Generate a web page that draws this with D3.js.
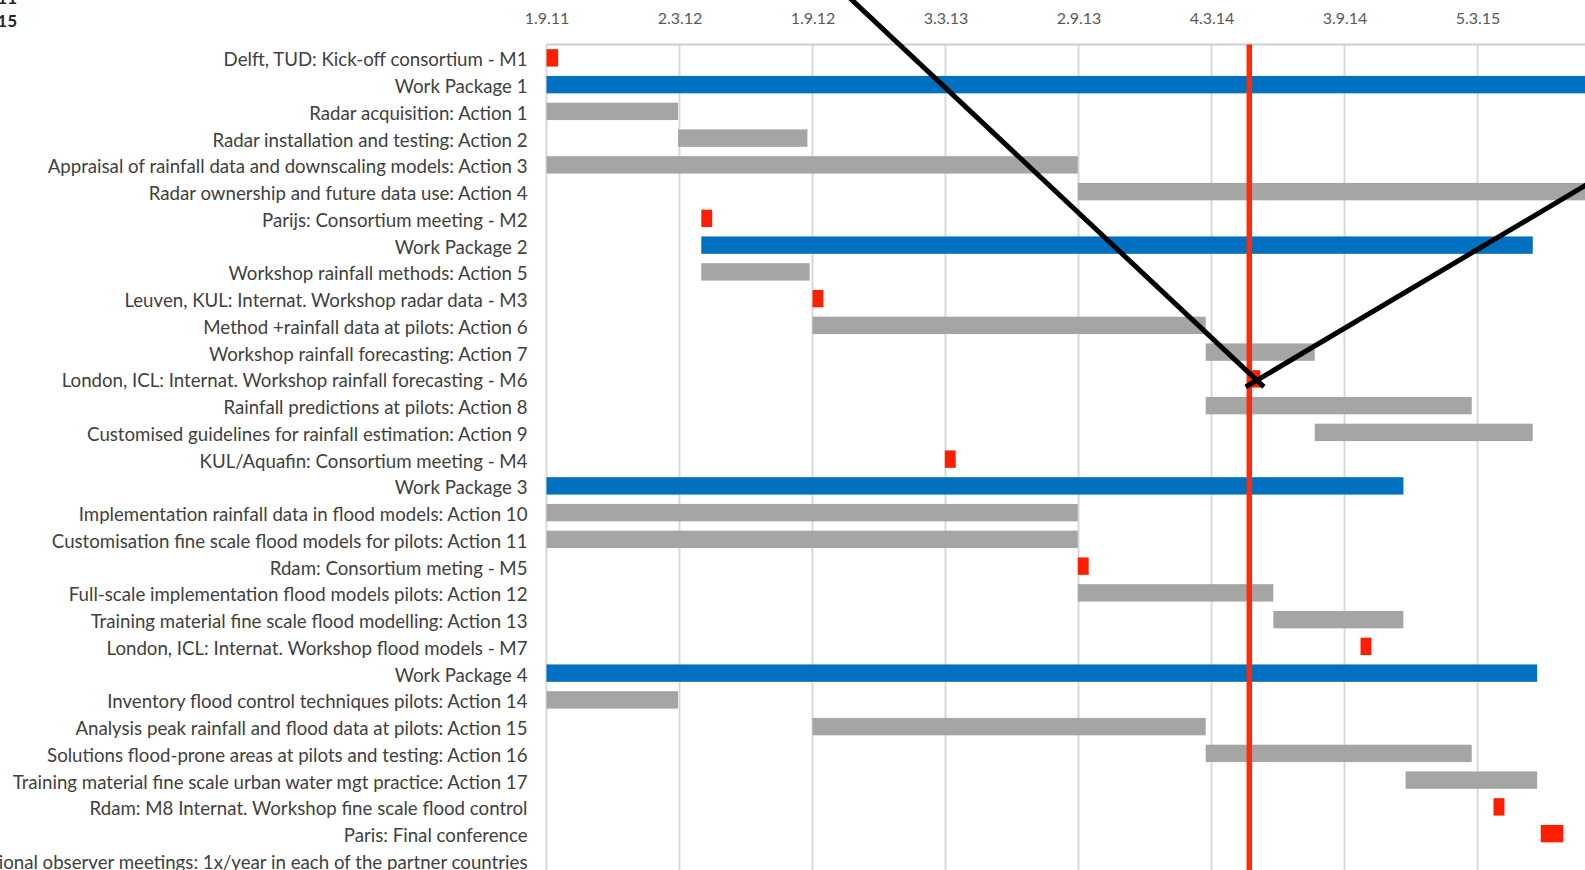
<!DOCTYPE html>
<html><head><meta charset="utf-8">
<script src="https://cdn.jsdelivr.net/npm/d3@7"></script>
<style>html,body{margin:0;padding:0;background:#fff;overflow:hidden}</style>
</head><body><svg id="c" width="1585" height="870"></svg>
<script>
const tasks = [
  "Delft, TUD: Kick-off consortium - M1",
  "Work Package 1",
  "Radar acquisition: Action 1",
  "Radar installation and testing: Action 2",
  "Appraisal of rainfall data and downscaling models: Action 3",
  "Radar ownership and future data use: Action 4",
  "Parijs: Consortium meeting - M2",
  "Work Package 2",
  "Workshop rainfall methods: Action 5",
  "Leuven, KUL: Internat. Workshop radar data - M3",
  "Method +rainfall data at pilots: Action 6",
  "Workshop rainfall forecasting: Action 7",
  "London, ICL: Internat. Workshop rainfall forecasting - M6",
  "Rainfall predictions at pilots: Action 8",
  "Customised guidelines for rainfall estimation: Action 9",
  "KUL/Aquafin: Consortium meeting - M4",
  "Work Package 3",
  "Implementation rainfall data in flood models: Action 10",
  "Customisation fine scale flood models for pilots: Action 11",
  "Rdam: Consortium meting - M5",
  "Full-scale implementation flood models pilots: Action 12",
  "Training material fine scale flood modelling: Action 13",
  "London, ICL: Internat. Workshop flood models - M7",
  "Work Package 4",
  "Inventory flood control techniques pilots: Action 14",
  "Analysis peak rainfall and flood data at pilots: Action 15",
  "Solutions flood-prone areas at pilots and testing: Action 16",
  "Training material fine scale urban water mgt practice: Action 17",
  "Rdam: M8 Internat. Workshop fine scale flood control",
  "Paris: Final conference",
  "National observer meetings: 1x/year in each of the partner countries"
];
const starts = [
  "2011-09-01","2011-09-01","2011-09-01","2012-02-29","2011-09-01","2013-09-01",
  "2012-04-01","2012-04-01","2012-04-01","2012-09-01","2012-09-01","2014-02-24",
  "2014-04-23","2014-02-24","2014-07-24","2013-03-02","2011-09-01","2011-09-01",
  "2011-09-01","2013-09-01","2013-09-01","2014-05-28","2014-09-25","2011-09-01",
  "2011-09-01","2012-09-01","2014-02-24","2014-11-26","2015-03-27","2015-05-31", null
];
const ends = [
  "2011-09-17","2015-09-30","2012-02-29","2012-08-25","2013-09-01","2015-09-30",
  "2012-04-16","2015-05-20","2012-08-28","2012-09-16","2014-02-24","2014-07-24",
  "2014-05-10","2015-02-25","2015-05-20","2013-03-17","2014-11-23","2013-09-01",
  "2013-09-01","2013-09-16","2014-05-28","2014-11-23","2014-10-10","2015-05-26",
  "2012-02-29","2014-02-24","2015-02-25","2015-05-26","2015-04-11","2015-07-01", null
];
const kinds = [
  "m","wp","a","a","a","a","m","wp","a","m","a","a","m","a","a","m","wp","a","a","m",
  "a","a","m","wp","a","a","a","a","m","m","m"
];
const tickDates = ["2011-09-01","2012-03-02","2012-09-01","2013-03-03","2013-09-02","2014-03-04","2014-09-03","2015-03-05"];
const tickLabels = ["1.9.11","2.3.12","1.9.12","3.3.13","2.9.13","4.3.14","3.9.14","5.3.15"];
const todayDate = "2014-04-25";
const headerLines = ["2011","2015"];
// annotation strokes drawn over the chart: [date, row position]
const strokeA = [["2012-10-18", -1.85], ["2014-05-15", 12.80]];
const strokeB = [["2014-04-20", 12.80], ["2015-08-20", 4.95]];

const parse = d3.utcParse("%Y-%m-%d");
const W = 1585, H = 870;
const plotLeft = 546.5, plotTop = 44.5, rowStep = 26.75;
const svg = d3.select("#c");
const font = "Lato, 'Open Sans', sans-serif";

const x = d3.scaleUtc().domain([parse("2011-09-01"), parse("2013-09-02")]).range([plotLeft, plotLeft + 732 * 0.7268]);
const y = d3.scaleBand().domain(d3.range(tasks.length)).range([plotTop, plotTop + tasks.length * rowStep])
  .paddingInner(0.35).paddingOuter(0.175);
const rowPos = d3.scaleLinear().domain([0, tasks.length]).range([plotTop, plotTop + tasks.length * rowStep]);
const colors = {m: "#ff1f00", wp: "#0070c0", a: "#a5a5a5"};

// gridlines
svg.append("g").selectAll("line").data(tickDates).join("line")
  .attr("x1", d => x(parse(d))).attr("x2", d => x(parse(d)))
  .attr("y1", plotTop).attr("y2", H)
  .attr("stroke", "#d9d9d9").attr("stroke-width", 2);
svg.append("line").attr("x1", plotLeft).attr("x2", W).attr("y1", plotTop).attr("y2", plotTop)
  .attr("stroke", "#cfcfcf").attr("stroke-width", 2);

// top axis labels
const axis = d3.axisTop(x).tickValues(tickDates.map(parse)).tickSize(0)
  .tickFormat((d, i) => tickLabels[i]);
const ag = svg.append("g").attr("transform", `translate(0,${plotTop - 26})`).call(axis);
ag.select(".domain").remove();
ag.selectAll("text").attr("fill", "#595959").style("font-family", font).style("font-size", "16px")
  .attr("dy", "0.32em").attr("y", 0);

// row labels
const lg = svg.append("g");
const lbls = lg.selectAll("text").data(tasks).join("text")
  .attr("x", plotLeft - 19).attr("y", (d, i) => y(i) + y.bandwidth() / 2)
  .attr("dy", "0.45em").attr("text-anchor", "end")
  .attr("fill", "#404040").style("font-family", font).style("font-size", "16px")
  .text(d => d);
// fit font size to reference widths
const ref = lbls.filter((d, i) => i === 4).node().getComputedTextLength();
const fs = 16 * 480 / ref;
lbls.style("font-size", fs + "px");

// bars
const rows = d3.range(tasks.length).filter(i => starts[i]);
svg.append("g").selectAll("rect").data(rows).join("rect")
  .attr("x", i => x(parse(starts[i])))
  .attr("width", i => Math.max(0, x(parse(ends[i])) - x(parse(starts[i]))))
  .attr("y", i => y(i)).attr("height", y.bandwidth())
  .attr("fill", i => colors[kinds[i]]);

// today line
svg.append("line").attr("x1", x(parse(todayDate))).attr("x2", x(parse(todayDate)))
  .attr("y1", plotTop).attr("y2", H).attr("stroke", "#ff2a0a").attr("stroke-width", 5.5);

// annotation strokes
const ln = d3.line().x(d => x(parse(d[0]))).y(d => rowPos(d[1]));
[strokeA, strokeB].forEach(s => svg.append("path").attr("d", ln(s))
  .attr("stroke", "#000").attr("stroke-width", 5).attr("fill", "none"));

// header
svg.append("g").selectAll("text").data(headerLines).join("text")
  .attr("x", 17).attr("y", (d, i) => 4 + i * 23).attr("text-anchor", "end")
  .attr("fill", "#262626").style("font-family", font).style("font-size", "17px").style("font-weight", "bold")
  .text(d => d);
</script></body></html>
